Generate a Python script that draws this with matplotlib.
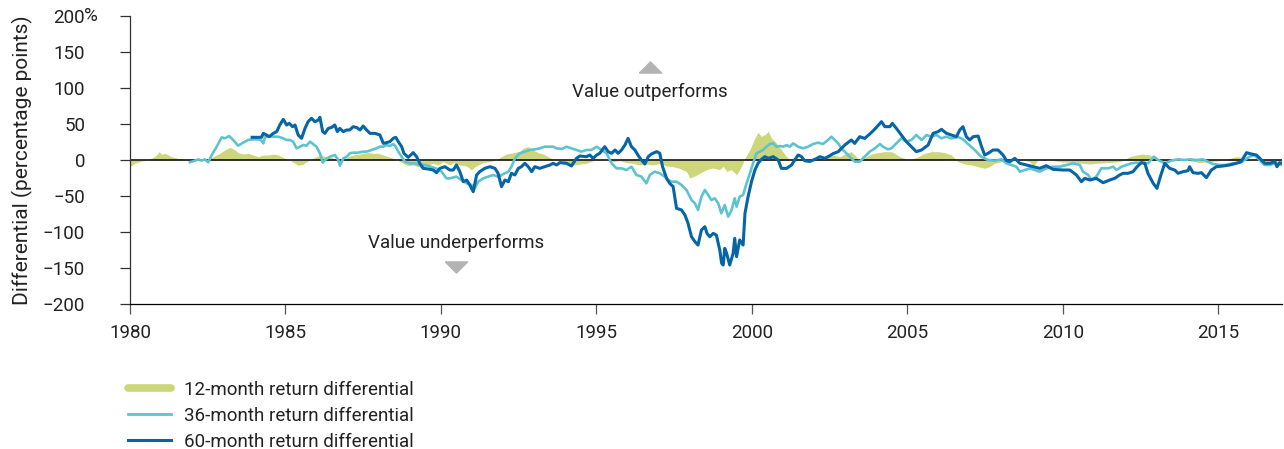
import matplotlib
matplotlib.use("Agg")
import matplotlib.pyplot as plt
from matplotlib.lines import Line2D

plt.rcParams['font.family'] = ['Roboto', 'DejaVu Sans']

# (year, percentage points)
m12 = [(1980.00, -9), (1980.16, -4.6), (1980.38, -1.4), (1980.59, 0), (1980.75, 3.7), (1980.86, 6.9),
       (1980.94, 11.6), (1981.02, 7.9), (1981.13, 9.3), (1981.23, 6.9), (1981.34, 4.6), (1981.55, 2.3),
       (1981.77, 0.9), (1981.98, 0), (1982.20, 0.9), (1982.52, 0.9), (1982.68, 4.6), (1982.89, 9.3),
       (1983.05, 13.9), (1983.22, 17.6), (1983.38, 13.9), (1983.48, 10.2), (1983.64, 8.3), (1983.80, 9.3),
       (1983.97, 6.9), (1984.13, 4.6), (1984.29, 6.9), (1984.45, 6.9), (1984.61, 8.3), (1984.77, 6.9),
       (1984.88, 4.6), (1984.98, 2.3), (1985.14, 0), (1985.31, -4.6), (1985.41, -7.4), (1985.57, -6),
       (1985.68, -2.3), (1985.84, 0.9), (1986.00, 4.6), (1986.17, 6.9), (1986.27, 4.6), (1986.38, 4.6),
       (1986.48, 3.7), (1986.59, 0.9), (1986.70, -4.6), (1986.75, -9.3), (1986.86, 0), (1987.02, 4.6),
       (1987.18, 6.9), (1987.34, 7.9), (1987.50, 9.3), (1987.66, 10.2), (1987.82, 9.3), (1987.98, 9.3),
       (1988.15, 6.9), (1988.31, 4.6), (1988.47, 2.3), (1988.63, -0.9), (1988.79, -4.6), (1988.95, -7.9),
       (1989.11, -6.9), (1989.27, -9.3), (1989.43, -11.6), (1989.59, -6.9), (1989.75, -4.6), (1989.91, -6.9),
       (1990.07, -2.3), (1990.29, -6.9), (1990.40, -3.7), (1990.61, -6.9), (1990.82, -8.3), (1990.99, -13.9),
       (1991.09, -9.3), (1991.20, -6.9), (1991.36, -3.7), (1991.57, -2.3), (1991.79, 0), (1991.95, 4.6),
       (1992.11, 8.3), (1992.33, 10.2), (1992.54, 12), (1992.65, 16.2), (1992.81, 18.5), (1992.97, 13.9),
       (1993.13, 10.2), (1993.29, 8.3), (1993.45, 4.6), (1993.61, 0.9), (1993.83, -2.3), (1994.04, -4.6),
       (1994.26, -6.9), (1994.47, -5.6), (1994.68, -4.6), (1994.90, -0.9), (1995.11, 0.9), (1995.33, 0),
       (1995.54, -2.3), (1995.76, -0.9), (1995.97, -3.7), (1996.18, -4.6), (1996.40, -6.9), (1996.61, -5.6),
       (1996.83, -6.9), (1997.04, -4.6), (1997.26, -8.3), (1997.47, -9.3), (1997.68, -11.6), (1997.90, -16.2),
       (1998.01, -25), (1998.22, -21), (1998.43, -16), (1998.60, -12.5), (1998.76, -11.1), (1998.97, -13.4),
       (1999.08, -8.8), (1999.19, -15.7), (1999.34, -13.4), (1999.51, -20.4), (1999.67, -8.8), (1999.78, 2.8),
       (1999.94, 14.4), (2000.10, 30.6), (2000.20, 38.4), (2000.31, 32.9), (2000.42, 35.2), (2000.53, 39.8),
       (2000.63, 30.6), (2000.79, 23.6), (2000.95, 14.4), (2001.11, 5), (2001.22, 0.5), (2001.33, -2.3),
       (2001.54, 0), (2001.76, -2.3), (2001.97, 2.3), (2002.19, 4.6), (2002.40, 3.7), (2002.62, 6.9),
       (2002.83, 4.6), (2003.04, 9.3), (2003.20, 11.6), (2003.31, 6.9), (2003.42, 0.9), (2003.53, 0),
       (2003.69, 4.6), (2003.85, 8.3), (2004.06, 10.2), (2004.28, 11.6), (2004.49, 11.6), (2004.60, 9.3),
       (2004.76, 4.6), (2004.92, 2.3), (2005.13, 0.9), (2005.35, 4.6), (2005.56, 9.3), (2005.78, 11.6),
       (2005.99, 11.6), (2006.21, 10.2), (2006.42, 6.9), (2006.53, 2.3), (2006.63, -2.3), (2006.85, -5.6),
       (2007.06, -6.9), (2007.28, -9.3), (2007.49, -11.6), (2007.65, -9.3), (2007.81, -4.6), (2008.03, -2.3),
       (2008.35, -0.9), (2008.78, 0), (2008.94, -2.3), (2009.05, -8), (2009.21, 0), (2009.37, 1),
       (2009.69, -0.9), (2010.01, -2.8), (2010.33, -3.2), (2010.65, -4.6), (2010.87, -5.6), (2011.08, -4.6),
       (2011.40, -3.7), (2011.73, -2.8), (2011.94, -0.9), (2012.15, 4.6), (2012.37, 6.9), (2012.58, 8.3),
       (2012.80, 6.9), (2012.96, 2.3), (2013.12, -0.9), (2013.44, -0.9), (2013.76, 0), (2014.08, -0.9),
       (2014.41, -3.7), (2014.73, -2.3), (2015.05, -0.9), (2015.37, 2.3), (2015.58, 4.6), (2015.80, 3.7),
       (2016.01, 0.9), (2016.33, -0.9), (2016.66, -2.3), (2016.98, -3.7)]

m36 = [(1981.93, -3.2), (1982.09, -0.9), (1982.20, 0.9), (1982.30, -0.9), (1982.41, 0.9), (1982.52, -3.2),
       (1982.63, 6.9), (1982.79, 18.5), (1982.95, 31.5), (1983.05, 30.1), (1983.19, 33.3), (1983.32, 27.8),
       (1983.48, 19.9), (1983.64, 24.1), (1983.80, 27.8), (1983.97, 28.7), (1984.13, 28.7), (1984.23, 26.9),
       (1984.29, 23.1), (1984.34, 31.5), (1984.45, 33.3), (1984.61, 32.4), (1984.77, 32.4), (1984.93, 30.1),
       (1985.04, 27.8), (1985.14, 27.8), (1985.25, 25.5), (1985.36, 16.2), (1985.47, 18.5), (1985.57, 20.8),
       (1985.68, 19.9), (1985.79, 25.5), (1985.89, 22.2), (1986.00, 18.5), (1986.11, 9.3), (1986.20, -3.7),
       (1986.27, 0), (1986.43, 4.6), (1986.59, 6.9), (1986.70, 0), (1986.75, -7.9), (1986.86, 2.3),
       (1986.97, 4.6), (1987.07, 9.3), (1987.18, 10.2), (1987.34, 10.2), (1987.50, 11.6), (1987.61, 11.6),
       (1987.77, 13.9), (1987.93, 16.2), (1988.04, 18.5), (1988.15, 18.5), (1988.25, 20.8), (1988.36, 19.4),
       (1988.47, 22.2), (1988.55, 18.5), (1988.63, 11.6), (1988.74, 4.6), (1988.84, -2.3), (1989.00, -4.6),
       (1989.16, -4.6), (1989.32, -6.9), (1989.49, -6.9), (1989.65, -9), (1989.86, -12), (1990.02, -16),
       (1990.18, -25.5), (1990.29, -25.5), (1990.50, -23.1), (1990.66, -27.8), (1990.83, -32.4), (1990.99, -34.7),
       (1991.09, -39.4), (1991.20, -30.1), (1991.36, -25.5), (1991.52, -23.1), (1991.68, -20.8), (1991.84, -23.1),
       (1991.95, -20.8), (1992.06, -18.5), (1992.17, -16.2), (1992.27, -9.3), (1992.38, 2.3), (1992.54, 9.3),
       (1992.70, 11.6), (1992.86, 13.9), (1993.02, 14.8), (1993.18, 16.2), (1993.34, 18.5), (1993.51, 18.5),
       (1993.61, 18.5), (1993.72, 16.2), (1993.88, 15.3), (1994.04, 18.5), (1994.20, 16.2), (1994.36, 13.9),
       (1994.52, 11.6), (1994.68, 13.9), (1994.84, 13.9), (1995.01, 18.5), (1995.17, 13.9), (1995.33, 9.3),
       (1995.49, -4.6), (1995.65, -11.6), (1995.81, -11.6), (1995.97, -13.9), (1996.13, -9.3), (1996.29, -20.8),
       (1996.45, -23.1), (1996.61, -32.4), (1996.72, -20.8), (1996.88, -16.2), (1997.04, -18.5), (1997.20, -23.1),
       (1997.31, -27.8), (1997.42, -30.1), (1997.58, -30.1), (1997.74, -34.7), (1997.90, -41.7), (1998.06, -55.6),
       (1998.17, -60.2), (1998.27, -69.4), (1998.38, -50.9), (1998.49, -41.7), (1998.60, -48.6), (1998.70, -55.6),
       (1998.81, -53.2), (1998.92, -60.2), (1999.02, -74.1), (1999.13, -62.5), (1999.24, -78.7), (1999.35, -69.4),
       (1999.45, -53.2), (1999.51, -64.8), (1999.61, -50.9), (1999.72, -48.6), (1999.83, -32.4), (1999.94, -18.5),
       (2000.04, -4.6), (2000.15, 9.3), (2000.26, 11.6), (2000.36, 13.9), (2000.47, 18.5), (2000.58, 22.2),
       (2000.69, 23.1), (2000.79, 18.5), (2000.90, 19.4), (2001.01, 18.5), (2001.12, 20.8), (2001.22, 18.5),
       (2001.33, 23.1), (2001.49, 18.5), (2001.65, 16.2), (2001.81, 18.5), (2001.97, 22.2), (2002.13, 24.1),
       (2002.29, 22.2), (2002.45, 27.8), (2002.56, 32.4), (2002.67, 27.8), (2002.78, 23.1), (2002.88, 16.2),
       (2003.04, 9.3), (2003.20, 2.3), (2003.31, -2.3), (2003.47, -2.3), (2003.63, 4.6), (2003.79, 11.6),
       (2003.96, 16.2), (2004.12, 22.2), (2004.22, 18.5), (2004.38, 14.8), (2004.49, 16.2), (2004.65, 23.1),
       (2004.81, 30.1), (2004.97, 25.5), (2005.13, 27.8), (2005.29, 34.7), (2005.46, 27.8), (2005.62, 34.7),
       (2005.78, 32.4), (2005.94, 34.7), (2006.10, 30.1), (2006.26, 32.4), (2006.42, 30), (2006.63, 32),
       (2006.79, 29), (2006.96, 22), (2007.17, 13.9), (2007.38, 4.6), (2007.60, 0), (2007.81, -1),
       (2008.03, 1), (2008.19, -4.6), (2008.35, -6.9), (2008.51, -9.3), (2008.62, -16.2), (2008.78, -13.9),
       (2008.94, -11.6), (2009.10, -13.9), (2009.26, -16.2), (2009.47, -11.6), (2009.69, -9.3), (2009.90, -9.3),
       (2010.12, -6.9), (2010.33, -4.6), (2010.55, -6.9), (2010.65, -16.2), (2010.82, -20.8), (2010.92, -27.8),
       (2011.08, -23.1), (2011.24, -11.6), (2011.46, -11.6), (2011.62, -9.3), (2011.73, -13.9), (2011.89, -9.3),
       (2012.05, -6.9), (2012.21, -4.6), (2012.37, -3.7), (2012.53, -3.7), (2012.74, -4.6), (2012.93, 4.6),
       (2013.07, 0), (2013.28, -4.6), (2013.49, -0.9), (2013.71, 0.9), (2013.92, 0), (2014.08, 0.9),
       (2014.30, 0), (2014.51, 0.9), (2014.67, -2.3), (2014.83, -5.6), (2015.05, -6.9), (2015.26, -6.9),
       (2015.48, -4.6), (2015.69, -3.7), (2015.85, 0), (2016.01, 4.6), (2016.17, 6.9), (2016.33, 0),
       (2016.49, -6.9), (2016.66, -6.9), (2016.82, -4.6), (2016.98, -5.6), (2017.05, -6.9)]

m60 = [(1983.93, 31.5), (1984.23, 31.5), (1984.29, 37), (1984.39, 34.7), (1984.48, 32.4), (1984.61, 37),
       (1984.72, 39.4), (1984.82, 48.6), (1984.93, 56.5), (1985.04, 48.6), (1985.12, 50.9), (1985.23, 46.3),
       (1985.31, 48.6), (1985.41, 34.7), (1985.52, 30.1), (1985.63, 43.9), (1985.73, 53.2), (1985.84, 57.9),
       (1985.95, 53.2), (1986.06, 55.6), (1986.11, 59.3), (1986.20, 39.4), (1986.27, 37), (1986.38, 43.9),
       (1986.48, 45.1), (1986.59, 48.6), (1986.67, 39.4), (1986.75, 43.9), (1986.86, 39.4), (1986.97, 41.7),
       (1987.07, 41.7), (1987.18, 46.3), (1987.29, 45.1), (1987.40, 41.7), (1987.50, 47.2), (1987.61, 41.7),
       (1987.72, 37), (1987.88, 37), (1988.04, 34.7), (1988.15, 23.1), (1988.25, 24.1), (1988.36, 25.5),
       (1988.47, 30.1), (1988.55, 31.5), (1988.63, 25.5), (1988.74, 18.5), (1988.81, 9.3), (1988.95, 3.7),
       (1989.11, 10.2), (1989.22, 4.6), (1989.32, -4.6), (1989.43, -11.6), (1989.59, -12.5), (1989.75, -13.9),
       (1989.86, -17.6), (1989.97, -11.6), (1990.13, -9.3), (1990.29, -13.9), (1990.40, -13.9), (1990.50, -6.9),
       (1990.61, -16.2), (1990.72, -30.1), (1990.83, -27.8), (1990.93, -34.7), (1991.04, -44), (1991.15, -20.8),
       (1991.25, -16.2), (1991.41, -11.6), (1991.58, -9.3), (1991.74, -11.6), (1991.84, -18.5), (1991.95, -37),
       (1992.06, -27.8), (1992.17, -30.1), (1992.27, -18.5), (1992.38, -20.8), (1992.49, -11.6), (1992.59, -9.3),
       (1992.70, -4.6), (1992.81, -9.3), (1992.92, -16.2), (1993.02, -9.3), (1993.18, -11.6), (1993.34, -9.3),
       (1993.51, -6.9), (1993.61, -4.6), (1993.72, -6.9), (1993.83, -3.7), (1994.04, -4.6), (1994.20, -8.3),
       (1994.36, 2.3), (1994.47, 5.6), (1994.68, 4.6), (1994.79, 6.9), (1994.90, 2.3), (1995.01, 6.9),
       (1995.11, 9.3), (1995.27, 18.5), (1995.38, 11.6), (1995.49, 9.3), (1995.60, 13.9), (1995.70, 9.3),
       (1995.81, 13.9), (1995.92, 20.8), (1996.02, 30.1), (1996.13, 18.5), (1996.24, 13.9), (1996.35, 6),
       (1996.45, 0), (1996.56, -5.6), (1996.67, 4.6), (1996.77, 8.3), (1996.94, 11.6), (1997.04, 9.3),
       (1997.13, -9.3), (1997.26, -25.5), (1997.36, -32.4), (1997.47, -37), (1997.58, -67.1), (1997.74, -69.4),
       (1997.85, -76.4), (1997.95, -88), (1998.06, -106.5), (1998.17, -113.4), (1998.27, -118.1), (1998.38, -97.2),
       (1998.49, -92.6), (1998.56, -101.9), (1998.65, -106.5), (1998.76, -101.9), (1998.86, -104.2), (1998.97, -125),
       (1999.03, -143.5), (1999.08, -145.8), (1999.13, -122.7), (1999.19, -129.6), (1999.29, -145.8), (1999.40, -129.6),
       (1999.45, -108.8), (1999.51, -134.3), (1999.61, -111.1), (1999.72, -118.1), (1999.78, -74.1), (1999.88, -50.9),
       (1999.99, -30.1), (2000.10, -13.9), (2000.20, -4.6), (2000.31, 0.9), (2000.42, 4.6), (2000.53, 2.3),
       (2000.69, 4.6), (2000.85, 0), (2000.95, -11.6), (2001.12, -11.6), (2001.28, -6.9), (2001.38, 0),
       (2001.49, 7), (2001.60, 4.6), (2001.70, -1), (2001.86, -2), (2002.03, 0.9), (2002.19, 4.6),
       (2002.35, 2.3), (2002.51, 6), (2002.62, 9), (2002.78, 11.6), (2002.99, 20.8), (2003.20, 27.8),
       (2003.31, 23.1), (2003.47, 32.4), (2003.63, 30), (2003.79, 36), (2003.95, 42.6), (2004.17, 53.2),
       (2004.28, 46.3), (2004.44, 46.3), (2004.52, 50.9), (2004.65, 43.9), (2004.81, 34.7), (2004.97, 25.5),
       (2005.13, 18.5), (2005.29, 11.6), (2005.46, 13.9), (2005.67, 20.8), (2005.83, 37), (2005.99, 39.4),
       (2006.10, 42.6), (2006.26, 37), (2006.42, 34.7), (2006.58, 32.4), (2006.69, 41.7), (2006.79, 46.3),
       (2006.90, 32.4), (2007.01, 27.8), (2007.12, 32.4), (2007.28, 33.3), (2007.39, 18.5), (2007.49, 6.9),
       (2007.60, 9.3), (2007.76, 13.9), (2007.92, 13.9), (2008.08, 6.9), (2008.19, -0.9), (2008.30, -2.3),
       (2008.46, 2.3), (2008.62, -4.6), (2008.83, -6.9), (2009.05, -9.3), (2009.26, -11.6), (2009.47, -7.9),
       (2009.69, -13), (2010.01, -13.9), (2010.23, -13.9), (2010.44, -20.8), (2010.60, -30.1), (2010.71, -25.5),
       (2010.87, -27.8), (2011.08, -25.5), (2011.30, -31.5), (2011.51, -27.8), (2011.67, -25.5), (2011.83, -20.8),
       (2011.94, -18.5), (2012.10, -18.5), (2012.26, -16.2), (2012.39, -9.3), (2012.53, -3.7), (2012.64, -4.6),
       (2012.74, -18.5), (2012.91, -32.4), (2013.03, -39.4), (2013.14, -23.1), (2013.28, -4.6), (2013.44, -11.6),
       (2013.60, -13.9), (2013.71, -18.5), (2013.87, -16.2), (2014.03, -14.8), (2014.08, -9.3), (2014.19, -17.6),
       (2014.35, -18.5), (2014.46, -17.6), (2014.62, -24.5), (2014.78, -13.9), (2014.94, -9.3), (2015.16, -8.3),
       (2015.37, -6.9), (2015.58, -4.6), (2015.74, -2.3), (2015.91, 10.2), (2016.07, 8.3), (2016.23, 6.9),
       (2016.39, 0), (2016.50, -4.6), (2016.66, -4.6), (2016.82, -2.3), (2016.89, -9.3), (2016.98, -3.7),
       (2017.05, -4.6)]

yr12, v12 = zip(*m12)
yr36, v36 = zip(*m36)
yr60, v60 = zip(*m60)

xticks = [1980, 1985, 1990, 1995, 2000, 2005, 2010, 2015]
yticks = [-200, -150, -100, -50, 0, 50, 100, 150, 200]
ylabels = ['\u2212200', '\u2212150', '\u2212100', '\u221250', '0', '50', '100', '150', '200']
legend_labels = ['12-month return differential', '36-month return differential', '60-month return differential']

c12 = '#cdd67a'
c36 = '#5ec3d0'
c60 = '#0565a6'
txt = '#222222'
fs = 13.5

fig = plt.figure(figsize=(12.84, 4.49), dpi=100)
ax = fig.add_axes([0.1012, 0.3229, 0.8972, 0.6415])

ax.fill_between(yr12, 0, v12, color=c12, lw=0, zorder=1)
ax.axhline(0, color='black', lw=1.1, zorder=2)
ax.plot(yr36, v36, color=c36, lw=1.9, zorder=3)
ax.plot(yr60, v60, color=c60, lw=2.2, zorder=4)

ax.set_xlim(1980, 2017.05)
ax.set_ylim(-200, 200)
ax.set_xticks(xticks)
ax.set_yticks(yticks)
ax.set_yticklabels(ylabels)

for s in ['top', 'right']:
    ax.spines[s].set_visible(False)
ax.spines['left'].set_color('#333333')
ax.spines['bottom'].set_color('black')
ax.spines['left'].set_linewidth(0.9)
ax.spines['bottom'].set_linewidth(0.9)
ax.tick_params(axis='y', length=7.2, width=0.9, pad=25, labelsize=fs, colors='#333333', labelcolor=txt)
ax.tick_params(axis='x', length=7.5, width=0.9, pad=7, labelsize=fs, colors='#555555', labelcolor=txt)

# "%" hangs off the top label
ax.annotate('%', xy=(0, 200), xycoords=('axes fraction', 'data'), xytext=(-33, 0),
            textcoords='offset points', ha='left', va='center', fontsize=fs, color=txt)

fig.text(22 / 1284, 1 - 160 / 449, 'Differential (percentage points)', rotation=90,
         ha='center', va='center', fontsize=15, color=txt)

# direction markers
tri_up = [(-1, -0.5), (1, -0.5), (0, 0.5), (-1, -0.5)]
tri_dn = [(-1, 0.5), (1, 0.5), (0, -0.5), (-1, 0.5)]
ax.plot([1996.72], [129], marker=tri_up, markersize=16, color='#b3b3b3', ls='none')
ax.text(1996.72, 95, 'Value outperforms', ha='center', va='center', fontsize=fs, color=txt)
ax.plot([1990.5], [-149], marker=tri_dn, markersize=16, color='#b3b3b3', ls='none')
ax.text(1990.5, -115, 'Value underperforms', ha='center', va='center', fontsize=fs, color=txt)

handles = [Line2D([], [], color=c12, lw=5.5, solid_capstyle='round'),
           Line2D([], [], color=c36, lw=2),
           Line2D([], [], color=c60, lw=2.2)]
fig.legend(handles, legend_labels, loc='upper left', bbox_to_anchor=(128 / 1284, 1 - 381 / 449),
           frameon=False, borderpad=0, borderaxespad=0, handlelength=2.3, handletextpad=0.7,
           labelspacing=0.42, fontsize=fs, labelcolor=txt)

fig.savefig('out.png', dpi=100)
